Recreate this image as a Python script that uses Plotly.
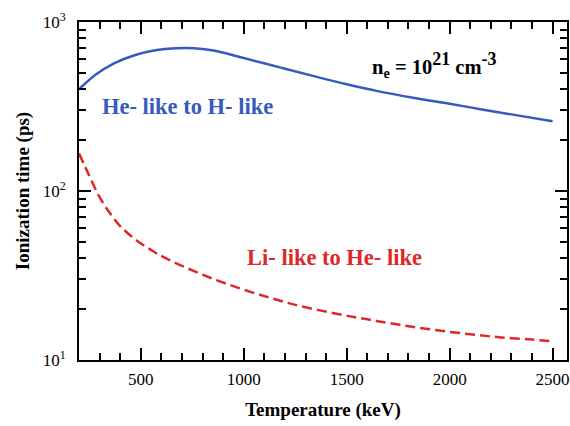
import plotly.graph_objects as go

# Data
temp_he = [200, 280, 370, 470, 570, 670, 760, 860, 1000, 1180, 1350, 1500, 1650, 1830, 2000, 2150, 2300, 2500]
time_he = [400, 488, 570, 636, 680, 700, 700, 676, 612, 537, 475, 428, 390, 355, 328, 305, 284, 259]

temp_li = [200, 250, 300, 350, 400, 480, 560, 640, 800, 970, 1130, 1270, 1450, 1600, 1750, 1920, 2100, 2250, 2400, 2500]
time_li = [167, 123, 92, 74, 62, 51, 44, 39, 32, 26.8, 23.3, 20.9, 18.8, 17.4, 16.2, 15.1, 14.2, 13.6, 13.2, 12.9]

x_ticks = [500, 1000, 1500, 2000, 2500]
x_minor = [v for v in range(300, 2600, 100) if v % 500 != 0]
y_ticks = [10, 100, 1000]
y_ticktext = ["10<sup>1</sup>", "10<sup>2</sup>", "10<sup>3</sup>"]
y_minor = [m * 10 ** e for e in (1, 2) for m in range(2, 10)]

BLUE = "rgb(55,90,190)"
RED = "rgb(222,40,40)"
FONT = "Liberation Serif"

fig = go.Figure()
fig.add_trace(go.Scatter(x=temp_he, y=time_he, mode="lines",
                         line=dict(color=BLUE, width=2.5, shape="spline", smoothing=1.0),
                         showlegend=False))
fig.add_trace(go.Scatter(x=temp_li, y=time_li, mode="lines",
                         line=dict(color=RED, width=2.5, dash="10px,5px", shape="spline", smoothing=1.0),
                         showlegend=False))
# invisible trace to carry the mirrored (top/right) tick axes
fig.add_trace(go.Scatter(x=temp_he, y=time_he, xaxis="x2", yaxis="y2", mode="lines",
                         line=dict(width=0), opacity=0, showlegend=False, hoverinfo="skip"))

fig.add_annotation(x=0.043, y=0.749, xref="paper", yref="paper", xanchor="left", yanchor="middle",
                   text="<b>He- like to H- like</b>", showarrow=False,
                   font=dict(family=FONT, size=22.5, color=BLUE))
fig.add_annotation(x=0.340, y=0.302, xref="paper", yref="paper", xanchor="left", yanchor="middle",
                   text="<b>Li- like to He- like</b>", showarrow=False,
                   font=dict(family=FONT, size=22.5, color=RED))
fig.add_annotation(x=0.596, y=0.873, xref="paper", yref="paper", xanchor="left", yanchor="middle",
                   text="<b>n<sub>e</sub> = 10<sup><span style='font-size:18px'>21</span></sup> cm<sup><span style='font-size:18px'>-3</span></sup></b>",
                   showarrow=False, font=dict(family=FONT, size=20.5, color="black"))

tick_common = dict(ticks="inside", ticklen=12, tickwidth=1.5, tickcolor="black", showline=True,
                   linecolor="black", linewidth=2, showgrid=False, zeroline=False, automargin=False)

fig.update_layout(
    xaxis=dict(range=[200, 2570], tickvals=x_ticks, ticklabelstandoff=3,
               minor=dict(tickvals=x_minor, ticks="inside", ticklen=7, tickwidth=1.5, tickcolor="black", showgrid=False),
               tickfont=dict(family=FONT, size=17, color="black"),
               title=dict(text="<b>Temperature (keV)</b>", font=dict(family=FONT, size=19, color="black"), standoff=14),
               **tick_common),
    yaxis=dict(type="log", range=[1, 3], tickvals=y_ticks, ticktext=y_ticktext, ticklabelstandoff=8,
               minor=dict(tickvals=y_minor, ticks="inside", ticklen=7, tickwidth=1.5, tickcolor="black", showgrid=False),
               tickfont=dict(family=FONT, size=17, color="black"),
               title=dict(text="<b>Ionization time (ps)</b>", font=dict(family=FONT, size=19, color="black"), standoff=8),
               **tick_common),
    xaxis2=dict(overlaying="x", side="top", matches="x", range=[200, 2570], tickvals=x_ticks, showticklabels=False,
                minor=dict(tickvals=x_minor, ticks="inside", ticklen=7, tickwidth=1.5, tickcolor="black", showgrid=False),
                anchor="y", **tick_common),
    yaxis2=dict(overlaying="y", side="right", matches="y", type="log", range=[1, 3], tickvals=y_ticks, showticklabels=False,
                minor=dict(tickvals=y_minor, ticks="inside", ticklen=7, tickwidth=1.5, tickcolor="black", showgrid=False),
                anchor="x", **tick_common),
    width=570, height=426, margin=dict(l=79, r=3, t=22, b=66),
    plot_bgcolor="white", paper_bgcolor="white",
)

fig.write_html("out.html", config={"displayModeBar": False},
               post_script="document.body.style.margin='0px';document.body.style.overflow='hidden';")
